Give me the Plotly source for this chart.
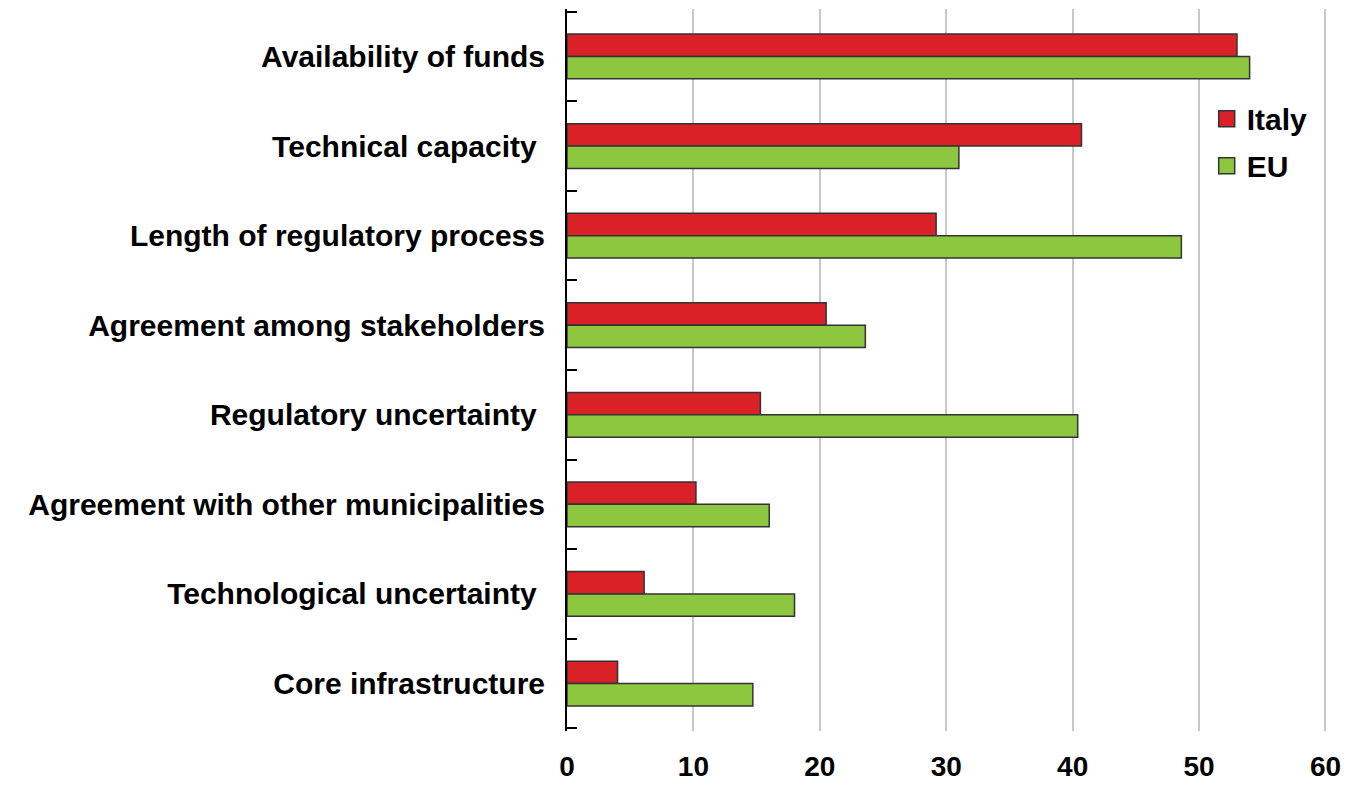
import plotly.graph_objects as go

categories = [
    "Availability of funds",
    "Technical capacity\u00a0",
    "Length of regulatory process",
    "Agreement among stakeholders",
    "Regulatory uncertainty\u00a0",
    "Agreement with other municipalities",
    "Technological uncertainty\u00a0",
    "Core infrastructure",
]
italy = [53.0, 40.7, 29.2, 20.5, 15.3, 10.2, 6.1, 4.0]
eu = [54.0, 31.0, 48.6, 23.6, 40.4, 16.0, 18.0, 14.7]
x_ticks = [0, 10, 20, 30, 40, 50, 60]
series = [("Italy", italy, "#DA2128"), ("EU", eu, "#8DC63F")]

FONT = "Liberation Sans Narrow, Arial Narrow, Liberation Sans, Arial, sans-serif"
EDGE = "#333333"
n = len(categories)
yr = [n - 0.5 + 0.03, -0.53]

fig = go.Figure()
for name, vals, col in series:
    fig.add_trace(go.Bar(y=categories, x=vals, name=name, orientation="h", showlegend=False,
                         marker=dict(color=col, line=dict(color=EDGE, width=1.5))))
# legend entries with square swatches
for name, vals, col in series:
    fig.add_trace(go.Scatter(x=[None], y=[None], mode="markers", name=name, legendgroup=name,
                             marker=dict(symbol="square", size=18, color=col,
                                         line=dict(color=EDGE, width=1.5))))
# empty trace so the boundary-tick axis gets drawn
fig.add_trace(go.Scatter(x=[None], y=[None], yaxis="y2", showlegend=False, hoverinfo="skip"))

fig.update_layout(
    width=1334, height=776,
    margin=dict(l=559, r=14, t=1, b=53),
    paper_bgcolor="white", plot_bgcolor="white",
    barmode="group", bargap=0.5, bargroupgap=0,
    font=dict(family=FONT, size=30, color="black", weight="bold"),
    legend=dict(x=0.8406, y=0.884, xanchor="left", yanchor="top",
                font=dict(size=30, weight="bold"), bgcolor="rgba(0,0,0,0)",
                itemwidth=30, tracegroupgap=5),
    # tick marks at the category boundaries (including both ends)
    yaxis2=dict(overlaying="y", side="left", anchor="x", range=yr,
                tickvals=[i - 0.5 for i in range(n + 1)], showticklabels=False,
                ticks="inside", ticklen=10, tickwidth=2, tickcolor="black",
                showgrid=False, zeroline=False, showline=False),
)
fig.update_xaxes(range=[0, 60.2], tickvals=x_ticks, showgrid=True, gridcolor="#c8c8c8", gridwidth=2,
                 zeroline=False, showline=False, ticks="", ticklabelstandoff=16, automargin=False,
                 tickfont=dict(size=28, weight="bold"))
fig.update_layout(yaxis=dict(range=yr, showline=True, linecolor="black", linewidth=2,
                             ticks="", showgrid=False, ticklabelstandoff=14, automargin=False,
                             tickfont=dict(size=30, weight="bold")))

fig.write_html("out.html")
